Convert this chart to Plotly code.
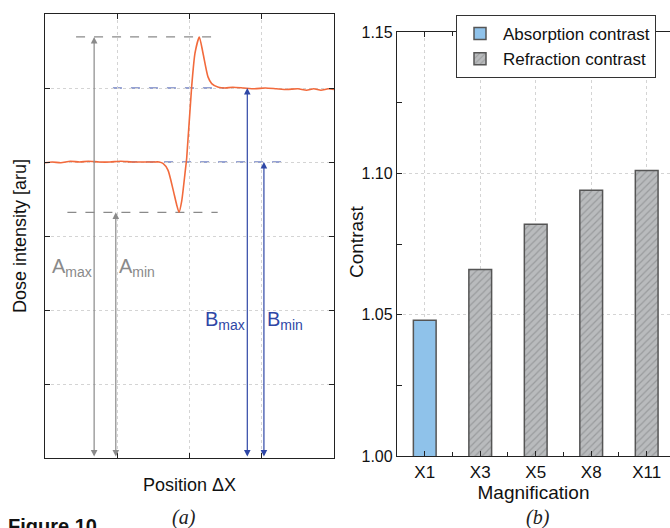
import plotly.graph_objects as go

# ---------------- data: panel (a) ----------------
pos_x = [0.00, 0.10, 0.22, 0.35, 0.48, 0.60, 0.75, 0.90, 1.05, 1.20, 1.35, 1.50, 1.58,
         1.633, 1.702, 1.772, 1.823, 1.855, 1.892, 1.938, 1.961, 2.030, 2.076, 2.136,
         2.187, 2.256, 2.307, 2.40, 2.49, 2.60, 2.75, 2.90, 3.05, 3.20, 3.35, 3.50,
         3.62, 3.72, 3.82, 3.92, 4.00]
dose = [3.99, 4.00, 3.99, 4.01, 4.00, 4.01, 4.00, 4.00, 4.01, 4.00, 4.00, 4.00, 4.00,
        3.98, 3.89, 3.63, 3.42, 3.32, 3.47, 3.85, 4.05, 5.02, 5.47, 5.69,
        5.47, 5.15, 5.06, 5.01, 5.00, 5.01, 5.00, 4.99, 5.00, 4.99, 4.98, 4.99,
        4.97, 4.99, 4.97, 4.99, 4.98]

a_max_level, a_min_level = 5.69, 3.32
b_max_level, b_min_level = 5.00, 4.00
gray_dash_x = [(0.43, 2.39), (0.31, 2.39)]
blue_dash_x = [(0.94, 2.48), (1.15, 3.35)]
arrow_x = {"A_max": 0.68, "A_min": 0.98, "B_max": 2.80, "B_min": 3.03}

# ---------------- data: panel (b) ----------------
magnification = ["X1", "X3", "X5", "X8", "X11"]
absorption = [1.048]
refraction = [1.066, 1.082, 1.094, 1.101]

W, H = 670, 528
FONT = "Liberation Sans, Arial, sans-serif"
GRAY = "#8a8a8a"
BLUE = "#2f47a6"

fig = go.Figure()

# ---- panel (a) ----
fig.add_trace(go.Scatter(x=pos_x, y=dose, mode="lines",
                         line=dict(color="#f26a3c", width=1.6, shape="spline", smoothing=0.6),
                         showlegend=False, xaxis="x", yaxis="y", hoverinfo="skip"))

for (x0, x1), lvl in zip(gray_dash_x, [a_max_level, a_min_level]):
    fig.add_shape(type="line", xref="x", yref="y", x0=x0, x1=x1, y0=lvl, y1=lvl,
                  line=dict(color=GRAY, width=1.2, dash="dash"), layer="below")
for (x0, x1), lvl in zip(blue_dash_x, [b_max_level, b_min_level]):
    fig.add_shape(type="line", xref="x", yref="y", x0=x0, x1=x1, y0=lvl, y1=lvl,
                  line=dict(color=BLUE, width=1.2, dash="dash"), layer="below")

arrows = [("A_max", a_max_level, GRAY), ("A_min", a_min_level, GRAY),
          ("B_max", b_max_level, BLUE), ("B_min", b_min_level, BLUE)]
for key, lvl, col in arrows:
    fig.add_annotation(x=arrow_x[key], y=lvl, ax=arrow_x[key], ay=0, xref="x", yref="y", axref="x", ayref="y",
                       text="", showarrow=True, arrowhead=2, arrowside="end+start", arrowsize=1.1,
                       arrowwidth=1.2, arrowcolor=col)

labels = [("A<sub>max</sub>", 0.37, 2.57, GRAY), ("A<sub>min</sub>", 1.28, 2.57, GRAY),
          ("B<sub>max</sub>", 2.49, 1.86, BLUE), ("B<sub>min</sub>", 3.32, 1.86, BLUE)]
for txt, lx, ly, col in labels:
    fig.add_annotation(x=lx, y=ly, xref="x", yref="y", text=txt, showarrow=False,
                       font=dict(family=FONT, size=20, color=col))

# ---- panel (b) ----
fig.add_trace(go.Bar(x=[0], y=absorption, name="Absorption contrast", width=0.41,
                     marker=dict(color="#8fc2ea", line=dict(color="#555555", width=1.5)),
                     xaxis="x2", yaxis="y2"))
fig.add_trace(go.Bar(x=[1, 2, 3, 4], y=refraction, name="Refraction contrast", width=0.41,
                     marker=dict(color="#b9bbbd", line=dict(color="#555555", width=1.5),
                                 pattern=dict(shape="/", fgcolor="#7a7c7e", bgcolor="#b9bbbd", size=5, solidity=0.25)),
                     xaxis="x2", yaxis="y2"))

axcommon = dict(showline=True, linecolor="#222", linewidth=1.3, ticks="inside", ticklen=5, tickcolor="#222",
                zeroline=False, gridcolor="#d4d4d4", griddash="dot", gridwidth=1, automargin=False)

fig.update_layout(
    width=W, height=H, margin=dict(l=0, r=0, t=0, b=0, autoexpand=False),
    paper_bgcolor="white", plot_bgcolor="white",
    font=dict(family=FONT, size=16, color="#111"),
    xaxis=dict(domain=[45 / W, 334 / W], range=[0, 4], tickvals=[1, 2, 3], showticklabels=False,
               mirror="ticks", showgrid=True, anchor="y",
               title=dict(text="Position ΔX", font=dict(size=18), standoff=20), **axcommon),
    yaxis=dict(domain=[1 - 458 / H, 1 - 14 / H], range=[0, 6], tickvals=[1, 2, 3, 4, 5], showticklabels=False,
               mirror="ticks", showgrid=True, anchor="x",
               title=dict(text="Dose intensity [aru]", font=dict(size=18), standoff=12), **axcommon),
    xaxis2=dict(domain=[397 / W, 1.0], range=[-0.5, 4.42], tickvals=[0, 1, 2, 3, 4], ticktext=magnification,
                mirror="ticks", showgrid=True, anchor="y2", tickfont=dict(size=17),
                minor=dict(tickvals=[0.5, 1.5, 2.5, 3.5], ticks="inside", ticklen=4, tickcolor="#222", showgrid=False),
                title=dict(text="Magnification", font=dict(size=19), standoff=4), **axcommon),
    yaxis2=dict(domain=[1 - 456 / H, 1 - 32 / H], range=[1.0, 1.15], dtick=0.05, tickformat=".2f", anchor="x2",
                showgrid=True, tickfont=dict(size=16),
                minor=dict(dtick=0.025, ticks="inside", ticklen=5, tickcolor="#222", showgrid=False),
                **axcommon),
    legend=dict(x=456 / W, y=1 - 15 / H, xanchor="left", yanchor="top", bgcolor="white",
                bordercolor="#333", borderwidth=1, font=dict(size=17), tracegroupgap=0, itemwidth=36),
)

# y title of panel (b), placed close to the tick labels as in the reference
fig.add_annotation(x=357 / W, y=1 - 242 / H, xref="paper", yref="paper", text="Contrast", textangle=-90,
                   showarrow=False, xanchor="center", yanchor="middle", font=dict(family=FONT, size=19, color="#111"))
fig.add_annotation(x=184 / W, y=1 - 517 / H, xref="paper", yref="paper", text="<i>(a)</i>", showarrow=False,
                   xanchor="center", yanchor="middle",
                   font=dict(family="Liberation Serif, Times New Roman, serif", size=20, color="#222"))
fig.add_annotation(x=538 / W, y=1 - 517 / H, xref="paper", yref="paper", text="<i>(b)</i>", showarrow=False,
                   xanchor="center", yanchor="middle",
                   font=dict(family="Liberation Serif, Times New Roman, serif", size=20, color="#222"))
fig.add_annotation(x=6 / W, y=1 - 513 / H, xref="paper", yref="paper", xanchor="left", yanchor="top",
                   text="<b>Figure 10</b>", showarrow=False, font=dict(family=FONT, size=20, color="#111"))

fig.write_html("out.html")
